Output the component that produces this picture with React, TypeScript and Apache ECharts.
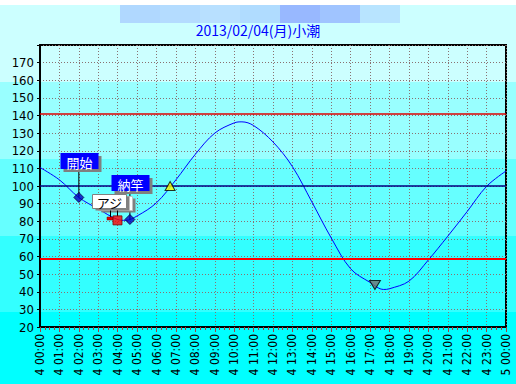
import React, { useEffect, useRef } from 'react';
import * as echarts from 'echarts';

// Tide curve (hours after 4th 00:00, level in cm)
const tideHours = [0, 1, 2, 3, 4, 4.4, 5, 6, 7, 8, 9, 10, 10.4, 11, 12, 13, 14, 15, 16, 17, 17.7, 18, 19, 20, 21, 22, 23, 24];
const tideLevels = [110.5, 103.5, 93.5, 87, 81, 80.5, 83, 90.5, 103.5, 118, 130, 135.8, 136.4, 134.3, 125, 111, 91, 70.5, 53, 45.3, 41.3, 41.7, 46, 58, 71.5, 85.5, 99.8, 108.5];

// Fishing events
const eventNames = ['開始', '納竿'];
const eventHours = [2.0, 4.63];
const eventLevels = [93.5, 81];

// Catches
const catchNames = ['アジ'];
const catchHours = [3.99];
const catchLevels = [80.5];

// Tide markers
const riseMarkHours = [6.7];
const riseMarkLevels = [100];
const lowMarkHours = [17.25];
const lowMarkLevels = [43.8];

// Reference lines
const upperLine = [141];
const lowerLine = [59];
const meanLine = [100];

// Axis labels
const xTickLabels = [
  '4 00:00', '4 01:00', '4 02:00', '4 03:00', '4 04:00', '4 05:00', '4 06:00', '4 07:00',
  '4 08:00', '4 09:00', '4 10:00', '4 11:00', '4 12:00', '4 13:00', '4 14:00', '4 15:00',
  '4 16:00', '4 17:00', '4 18:00', '4 19:00', '4 20:00', '4 21:00', '4 22:00', '4 23:00', '5 00:00',
];
const titleText = '2013/02/04(月)小潮';

const bannerColors = ['#b0d8ff', '#b4dcff', '#b8e0ff', '#b0dcff', '#98b8ff', '#a0c4ff', '#b8e4ff'];

const CJK = '"Noto Sans CJK JP", "Noto Sans", sans-serif';
const NUM = '"Liberation Sans Narrow", "DejaVu Sans Condensed", "Liberation Sans", sans-serif';

export default function App() {
  const ref = useRef<HTMLDivElement>(null);

  useEffect(() => {
    if (!ref.current) return;
    const chart = echarts.init(ref.current, undefined, { renderer: 'svg' });

    const tideData = tideHours.map((h, i) => [h, tideLevels[i]]);
    const eventData = eventHours.map((h, i) => [h, eventLevels[i]]);
    const catchData = catchHours.map((h, i) => [h, catchLevels[i]]);

    const option: any = {
      animation: false,
      backgroundColor: 'transparent',
      title: {
        text: titleText,
        left: 'center',
        top: 23,
        textStyle: { color: '#0000ff', fontSize: 14, fontWeight: 'normal', fontFamily: CJK },
        padding: 0,
      },
      graphic: bannerColors.map((c, i) => ({
        type: 'rect',
        shape: { x: 120 + i * 40, y: 5, width: 40, height: 18 },
        style: { fill: c },
        z: -1,
      })),
      grid: {
        left: 40,
        right: 10,
        top: 45,
        bottom: 57,
        show: true,
        borderColor: '#000',
        borderWidth: 2,
        backgroundColor: 'transparent',
      },
      xAxis: {
        type: 'value',
        min: 0,
        max: 24,
        interval: 1,
        axisLine: { show: true, lineStyle: { color: '#000', width: 2 } },
        axisTick: { show: true, length: 5, lineStyle: { color: '#a04040' } },
        minorTick: { show: true, splitNumber: 4, length: 3, lineStyle: { color: '#a04040' } },
        splitLine: { show: true, lineStyle: { color: '#8a7070', type: [1, 2], width: 1 } },
        axisLabel: {
          rotate: 90,
          margin: 7,
          color: '#000',
          fontSize: 12,
          fontFamily: NUM,
          formatter: (v: number) => xTickLabels[Math.round(v)] ?? '',
        },
      },
      yAxis: {
        type: 'value',
        min: 20,
        max: 180,
        interval: 10,
        axisLine: { show: true, lineStyle: { color: '#000', width: 2 } },
        axisTick: { show: true, length: 3, lineStyle: { color: '#000' } },
        splitLine: { show: true, lineStyle: { color: '#8a7070', type: [1, 2], width: 1 } },
        axisLabel: {
          margin: 6,
          color: '#000',
          fontSize: 13,
          fontFamily: NUM,
          formatter: (v: number) => (v >= 180 ? '' : String(v)),
        },
      },
      series: [
        {
          type: 'line',
          data: tideData,
          smooth: 0.35,
          showSymbol: false,
          lineStyle: { color: '#0000ff', width: 1 },
          z: 3,
          markLine: {
            silent: true,
            symbol: 'none',
            label: { show: false },
            data: [
              ...upperLine.map((v) => ({ yAxis: v, lineStyle: { color: '#e00000', width: 1.5, type: 'solid' } })),
              ...lowerLine.map((v) => ({ yAxis: v, lineStyle: { color: '#ff0000', width: 2, type: 'solid' } })),
              ...meanLine.map((v) => ({ yAxis: v, lineStyle: { color: '#000080', width: 1.5, type: 'solid' } })),
            ],
          },
        },
        // Event callouts (label box + connector)
        {
          type: 'custom',
          coordinateSystem: 'cartesian2d',
          data: eventData,
          clip: false,
          z: 5,
          renderItem: (params: any, api: any) => {
            const p = api.coord([api.value(0), api.value(1)]);
            const x = p[0];
            const y = p[1];
            const w = 38;
            const h = 16;
            const bx = Math.round(x - w / 2) + 0.5;
            const by = Math.round(y - 44);
            return {
              type: 'group',
              children: [
                { type: 'line', shape: { x1: x, y1: y, x2: x, y2: by + h }, style: { stroke: '#000', lineWidth: 1 } },
                { type: 'rect', shape: { x: bx + 3, y: by + 3, width: w, height: h }, style: { fill: '#808080' } },
                { type: 'rect', shape: { x: bx, y: by, width: w, height: h }, style: { fill: '#0000ff' } },
                {
                  type: 'text',
                  x: bx + w / 2,
                  y: by + h / 2 + 1,
                  style: {
                    text: eventNames[params.dataIndex],
                    fill: '#fff',
                    font: `13px ${CJK}`,
                    align: 'center',
                    verticalAlign: 'middle',
                  },
                },
              ],
            };
          },
        },
        // Event diamonds
        {
          type: 'scatter',
          data: eventData,
          symbol: 'diamond',
          symbolSize: [10, 10],
          itemStyle: { color: '#0000c0', borderColor: '#000040', borderWidth: 1 },
          z: 6,
        },
        // Catch callouts
        {
          type: 'custom',
          coordinateSystem: 'cartesian2d',
          data: catchData,
          clip: false,
          z: 5,
          renderItem: (params: any, api: any) => {
            const p = api.coord([api.value(0), api.value(1)]);
            const x = Math.round(p[0]);
            const y = Math.round(p[1]);
            const w = 34;
            const h = 14;
            const bx = x - 24.5;
            const by = y - 25.5;
            return {
              type: 'group',
              children: [
                { type: 'rect', shape: { x: bx + 9, y: by + 4, width: w, height: h }, style: { fill: '#808080' } },
                { type: 'rect', shape: { x: bx + 6, y: by + 2, width: w, height: h }, style: { fill: '#fff', stroke: '#c0c0c0', lineWidth: 1 } },
                { type: 'rect', shape: { x: bx + 3, y: by + 2, width: w, height: h }, style: { fill: '#808080' } },
                { type: 'rect', shape: { x: bx, y: by, width: w, height: h }, style: { fill: '#fff', stroke: '#808080', lineWidth: 1 } },
                {
                  type: 'text',
                  x: bx + w / 2,
                  y: by + h / 2 + 1,
                  style: {
                    text: catchNames[params.dataIndex],
                    fill: '#000',
                    font: `13px ${CJK}`,
                    align: 'center',
                    verticalAlign: 'middle',
                  },
                },
                { type: 'line', shape: { x1: x - 6.5, y1: by + h + 2, x2: x - 6.5, y2: y - 2 }, style: { stroke: '#000', lineWidth: 1 } },
                { type: 'line', shape: { x1: x + 0.5, y1: by + h + 2, x2: x + 0.5, y2: y - 4 }, style: { stroke: '#000', lineWidth: 1 } },
                { type: 'rect', shape: { x: x - 10, y: y - 3, width: 6, height: 3 }, style: { fill: '#e00000', stroke: '#800000', lineWidth: 0.5 } },
              ],
            };
          },
        },
        // Catch squares
        {
          type: 'scatter',
          data: catchData,
          symbol: 'rect',
          symbolSize: [9, 9],
          itemStyle: { color: '#ff0000', borderColor: '#800000', borderWidth: 1 },
          z: 6,
        },
        // Rising marker
        {
          type: 'scatter',
          data: riseMarkHours.map((h, i) => [h, riseMarkLevels[i]]),
          symbol: 'triangle',
          symbolSize: [10, 9],
          itemStyle: { color: '#ffff00', borderColor: '#000', borderWidth: 1 },
          z: 6,
        },
        // Low tide marker
        {
          type: 'scatter',
          data: lowMarkHours.map((h, i) => [h, lowMarkLevels[i]]),
          symbol: 'triangle',
          symbolRotate: 180,
          symbolSize: [11, 9],
          itemStyle: { color: '#707070', borderColor: '#000', borderWidth: 1 },
          z: 6,
        },
      ],
    };

    chart.setOption(option);
    return () => chart.dispose();
  }, []);

  return (
    <div
      ref={ref}
      style={{
        position: 'absolute',
        left: 0,
        top: 0,
        width: 516,
        height: 384,
        background:
          'linear-gradient(to bottom, #ffffff 0px, #ffffff 5px, #ccffff 5px, #ccffff 82px, #99ffff 82px, #99ffff 159px, #66ffff 159px, #66ffff 236px, #33ffff 236px, #33ffff 312px, #00ffff 312px, #00ffff 384px)',
      }}
    />
  );
}
